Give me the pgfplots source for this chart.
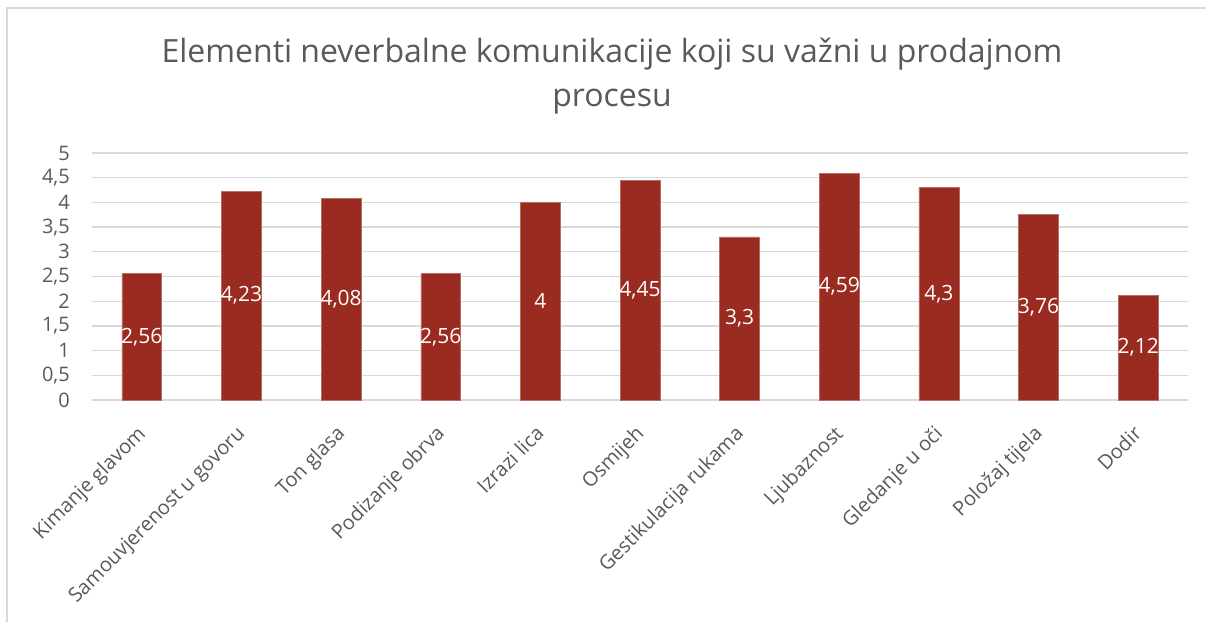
\documentclass[border=0pt]{standalone}
\usepackage{pgfplots}
\usepackage{pgfplotstable}
\pgfplotsset{compat=1.18}
\usepackage{fontspec}
\setmainfont{Open Sans}
\definecolor{barc}{HTML}{9A2B20}
\definecolor{txt}{HTML}{595959}
\definecolor{gridc}{HTML}{D9D9D9}
\pgfplotstableread{
x y lab
0 2.56 {2,56}
1 4.23 {4,23}
2 4.08 {4,08}
3 2.56 {2,56}
4 4 {4}
5 4.45 {4,45}
6 3.3 {3,3}
7 4.59 {4,59}
8 4.3 {4,3}
9 3.76 {3,76}
10 2.12 {2,12}
}\data
\begin{document}
\begin{tikzpicture}
\useasboundingbox (-92bp,-222bp) rectangle (1114bp,400bp);
\draw[gridc, line width=1.5bp] (-85bp,-222bp) -- (-85bp,392bp) -- (1114bp,392bp);
\node[anchor=base, text=txt, font=\fontsize{32bp}{38bp}\selectfont] at (520bp,337bp) {Elementi neverbalne komunikacije koji su važni u prodajnom};
\node[anchor=base, text=txt, font=\fontsize{32bp}{38bp}\selectfont] at (520bp,293bp) {procesu};
\begin{axis}[
  at={(0,0)}, anchor=south west,
  scale only axis, width=1096bp, height=247bp,
  xmin=-0.5, xmax=10.5, ymin=0, ymax=5,
  xtick={0,1,2,3,4,5,6,7,8,9,10},
  xticklabels={Kimanje glavom, Samouvjerenost u govoru, Ton glasa, Podizanje obrva, Izrazi lica, Osmijeh, Gestikulacija rukama, Ljubaznost, Gledanje u oči, Položaj tijela, Dodir},
  ytick={0,0.5,1,1.5,2,2.5,3,3.5,4,4.5,5},
  /pgf/number format/assume math mode=true,
  /pgf/number format/use comma,
  yticklabel style={text=txt, font=\fontsize{20bp}{24bp}\selectfont, anchor=east, inner sep=0pt, xshift=-22bp},
  xticklabel style={xshift=-6bp, yshift=-24bp, text=txt, font=\fontsize{20bp}{24bp}\selectfont, rotate=45, anchor=north east, inner sep=0pt},
  axis line style={draw=none},
  major tick length=0pt,
  ymajorgrids, grid style={draw=gridc, line width=1.3bp},
  clip=false,
]
\addplot[ybar, bar width=0.40, fill=barc, draw=barc!70!white, line width=0.6bp] table[x=x, y=y] {\data};
\addplot[only marks, mark=none, point meta=explicit symbolic, nodes near coords,
  nodes near coords style={anchor=center, text=white, font=\fontsize{21bp}{25bp}\selectfont, inner sep=0pt}]
  table[x=x, y expr=\thisrow{y}/2, meta=lab] {\data};
\end{axis}
\end{tikzpicture}
\end{document}
